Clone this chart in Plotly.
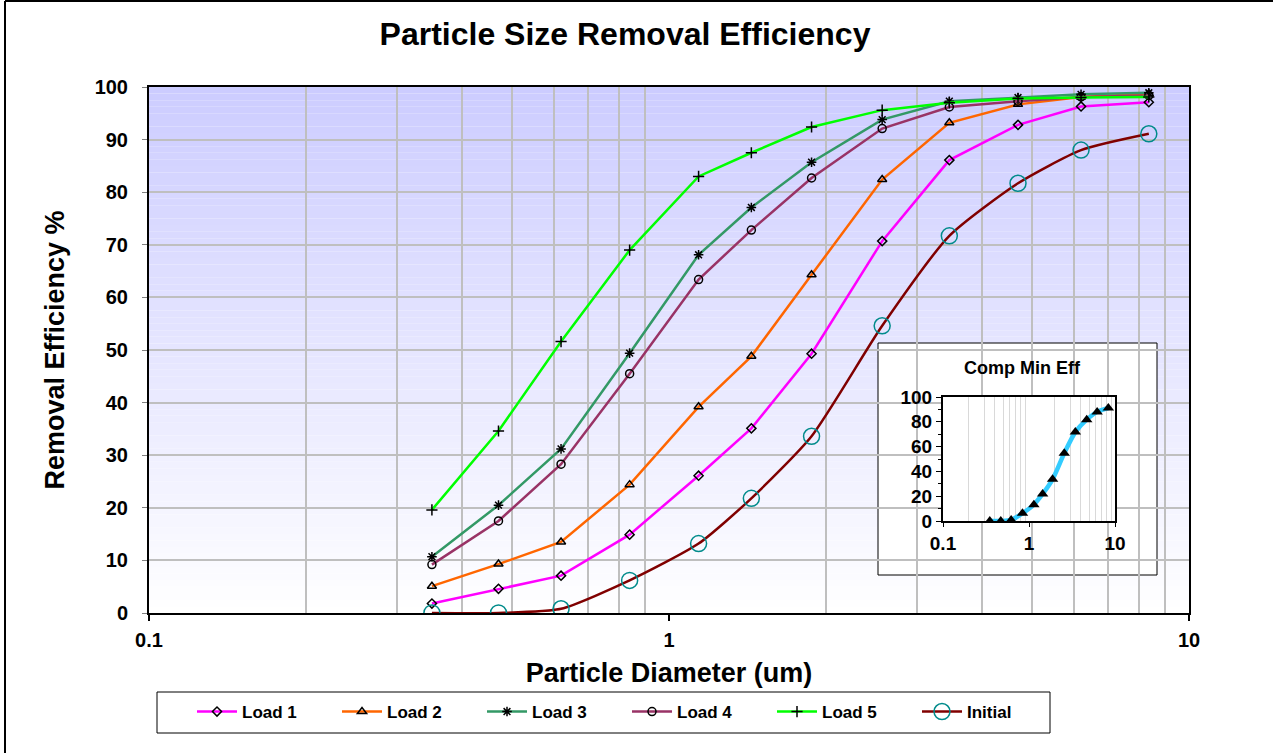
import plotly.graph_objects as go

# ---------------- data ----------------
sizes = [0.35, 0.47, 0.62, 0.84, 1.14, 1.44, 1.88, 2.57, 3.46, 4.69, 6.20, 8.37]
load1 = [1.8, 4.6, 7.1, 14.9, 26.1, 35.1, 49.3, 70.7, 86.1, 92.8, 96.3, 97.1]
load2 = [5.1, 9.3, 13.5, 24.4, 39.2, 48.8, 64.3, 82.4, 93.2, 96.7, 98.1, 98.7]
load3 = [10.7, 20.5, 31.2, 49.4, 68.1, 77.1, 85.7, 93.8, 97.3, 98.0, 98.6, 98.9]
load4 = [9.2, 17.5, 28.3, 45.5, 63.4, 72.8, 82.7, 92.1, 96.2, 97.3, 98.1, 98.4]
load5 = [19.6, 34.6, 51.6, 69.0, 83.0, 87.5, 92.4, 95.6, 97.0, 97.8, 98.0, 98.1]
initial = [0.0, 0.0, 0.8, 6.2, 13.2, 21.8, 33.6, 54.6, 71.7, 81.7, 88.0, 91.1]
comp_min_eff = initial

x_ticks = [0.1, 1, 10]
x_tick_labels = ["0.1", "1", "10"]
y_ticks = list(range(0, 101, 10))
inset_y_ticks = list(range(0, 101, 20))
minor_x = [m * d for d in (0.1, 1) for m in range(2, 10)]

FONT = "Liberation Sans, Arial, sans-serif"

series = [
    ("Load 1", load1, "#FF00FF", "diamond-open", 7, "black", "linear"),
    ("Load 2", load2, "#FF6600", "triangle-up-open", 8, "black", "linear"),
    ("Load 3", load3, "#339966", "asterisk-open", 8, "black", "linear"),
    ("Load 4", load4, "#993366", "circle-open", 8, "black", "linear"),
    ("Load 5", load5, "#00FF00", "cross-thin-open", 8, "black", "linear"),
    ("Initial", initial, "#800000", "circle-open", 16, "#008B8B", "spline"),
]

fig = go.Figure()
for name, vals, col, sym, size, mcol, shape in series:
    fig.add_trace(go.Scatter(
        x=sizes, y=vals, name="<b>%s</b>" % name, mode="lines+markers",
        line=dict(color=col, width=2.5, shape=shape, smoothing=0.6),
        marker=dict(symbol=sym, size=size, color=mcol,
                    line=dict(color=mcol, width=1.5)),
        xaxis="x", yaxis="y",
    ))

# inset
fig.add_trace(go.Scatter(
    x=sizes, y=comp_min_eff, name="Comp Min Eff", mode="lines+markers",
    line=dict(color="#33CCFF", width=4.5, shape="spline", smoothing=0.8),
    marker=dict(symbol="triangle-up", size=10, color="black"),
    xaxis="x2", yaxis="y2", showlegend=False,
))

# plot-area geometry (pixels)
W, H = 1273, 753
L, R, T, B = 149, 1189, 87, 613
pw, ph = R - L, B - T


def px(xp):
    return (xp - L) / pw


def py(yp):
    return (B - yp) / ph


shapes = []
# gradient background in main plot
N = 80
top = (204, 204, 255)
for i in range(N):
    f = (i + 0.5) / N
    c = tuple(round(255 + (t - 255) * f) for t in top)
    shapes.append(dict(type="rect", xref="x domain", yref="y domain",
                       x0=0, x1=1, y0=i / N, y1=(i + 1) / N,
                       fillcolor="rgb(%d,%d,%d)" % c, line=dict(width=0),
                       layer="below"))

# inset white box, drawn in inset subplot layer
ix0, ix1, iy0, iy1 = 943, 1115, 397, 521   # inset plot area px
bx0, bx1, by0, by1 = 878, 1157, 343, 575   # inset box px
iw, ih = ix1 - ix0, iy1 - iy0
shapes.append(dict(type="rect", xref="x2 domain", yref="y2 domain",
                   x0=(bx0 - ix0) / iw, x1=(bx1 - ix0) / iw,
                   y0=(iy1 - by1) / ih, y1=(iy1 - by0) / ih,
                   fillcolor="white", line=dict(color="black", width=1),
                   layer="below"))

# legend box
shapes.append(dict(type="rect", xref="paper", yref="paper",
                   x0=px(157), x1=px(1050), y0=py(733), y1=py(692),
                   fillcolor="white", line=dict(color="black", width=1),
                   layer="below"))
# outer chart frame (left and top)
shapes.append(dict(type="line", xref="paper", yref="paper",
                   x0=px(5), x1=px(5), y0=py(753), y1=py(1),
                   line=dict(color="black", width=2)))
shapes.append(dict(type="line", xref="paper", yref="paper",
                   x0=px(5), x1=px(1273), y0=py(1), y1=py(1),
                   line=dict(color="black", width=2)))

fig.update_layout(
    width=W, height=H,
    margin=dict(l=L, r=W - R, t=T, b=H - B),
    paper_bgcolor="white", plot_bgcolor="white",
    font=dict(family=FONT, color="black"),
    title=dict(text="<b>Particle Size Removal Efficiency</b>",
               x=625 / W, xanchor="center", y=1 - 34 / H, yanchor="middle",
               font=dict(size=32, family=FONT)),
    shapes=shapes,
    showlegend=True,
    legend=dict(orientation="h", x=px(192), y=py(712), xanchor="left",
                yanchor="middle", bgcolor="rgba(0,0,0,0)", borderwidth=0,
                font=dict(size=17, family=FONT),
                entrywidth=90, entrywidthmode="pixels",
                itemwidth=40),
    xaxis=dict(type="log", range=[-1, 1], domain=[0, 1],
               tickvals=x_ticks, ticktext=["<b>%s</b>" % t for t in x_tick_labels],
               tickfont=dict(size=20), ticks="outside", ticklen=6,
               tickcolor="black", tickwidth=1.5, ticklabelstandoff=2,
               showgrid=False, zeroline=False,
               showline=True, linecolor="black", linewidth=2, mirror=True,
               minor=dict(tickmode="array", tickvals=minor_x, showgrid=True,
                          gridcolor="#BFBFBF", gridwidth=2, ticks=""),
               title=dict(text="<b>Particle Diameter (um)</b>",
                          font=dict(size=27), standoff=13)),
    yaxis=dict(range=[0, 100], domain=[0, 1],
               tickvals=y_ticks, ticktext=["<b>%d</b>" % v for v in y_ticks],
               tickfont=dict(size=20), ticks="outside", ticklen=5,
               tickcolor="#808080", tickwidth=1, ticklabelstandoff=10,
               showgrid=True, gridcolor="#BFBFBF", gridwidth=1.5,
               zeroline=False,
               showline=True, linecolor="black", linewidth=2, mirror=True,
               title=dict(text="<b>Removal Efficiency %</b>",
                          font=dict(size=27), standoff=22)),
    xaxis2=dict(type="log", range=[-1, 1], anchor="y2",
                domain=[px(ix0), px(ix1)],
                tickvals=x_ticks, ticktext=["<b>%s</b>" % t for t in x_tick_labels],
                tickfont=dict(size=19), ticks="outside", ticklen=4,
                tickcolor="black",
                showgrid=False, zeroline=False,
                showline=True, linecolor="black", linewidth=2, mirror=True,
                minor=dict(tickmode="array", tickvals=minor_x, showgrid=True,
                           gridcolor="#D9D9D9", gridwidth=1, ticks="")),
    yaxis2=dict(range=[0, 100], anchor="x2",
                domain=[py(iy1), py(iy0)],
                tickvals=inset_y_ticks,
                ticktext=["<b>%d</b>" % v for v in inset_y_ticks],
                tickfont=dict(size=19), ticks="outside", ticklen=5,
                tickcolor="black",
                minor=dict(dtick=10, ticks="outside", ticklen=3,
                           tickcolor="black", showgrid=False),
                showgrid=False, zeroline=False,
                showline=True, linecolor="black", linewidth=2, mirror=True),
    annotations=[dict(text="<b>Comp Min Eff</b>", xref="paper", yref="paper",
                      x=px(1022), y=py(368), xanchor="center", yanchor="middle",
                      showarrow=False, font=dict(size=18, family=FONT))],
)

fig.write_html("out.html", config={"displayModeBar": False},
               post_script="document.body.style.margin='0px';")
